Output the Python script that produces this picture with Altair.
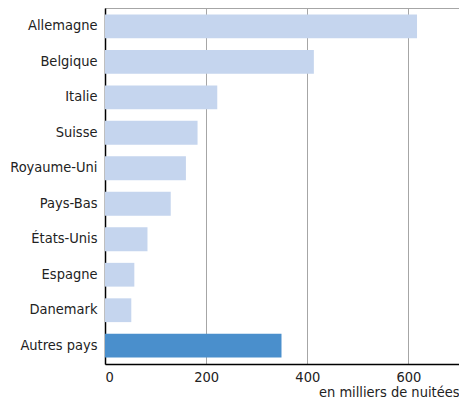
import altair as alt
import pandas as pd

pays = ["Allemagne", "Belgique", "Italie", "Suisse", "Royaume-Uni", "Pays-Bas",
        "États-Unis", "Espagne", "Danemark", "Autres pays"]
nuitees = [617, 413, 222, 183, 160, 130, 84, 58, 52, 349]
groupe = ["pays"] * 9 + ["autres"]

df = pd.DataFrame({"pays": pays, "nuitees": nuitees, "groupe": groupe})

FONT = "DejaVu Sans Condensed"

chart = alt.Chart(df).mark_bar().encode(
    y=alt.Y("pays:N", sort=None, title=None,
            scale=alt.Scale(paddingInner=0.33, paddingOuter=0.18),
            axis=alt.Axis(ticks=False, labelPadding=8, labelFontSize=14.5,
                          labelColor="#222222", labelFont=FONT,
                          domainColor="#000000", domainWidth=1.5, grid=False)),
    x=alt.X("nuitees:Q", title="en milliers de nuitées",
            scale=alt.Scale(domain=[0, 700], nice=False),
            axis=alt.Axis(values=[0, 200, 400, 600], grid=True, gridColor="#a6a6a6",
                          gridWidth=1, ticks=False, labelPadding=6, labelFontSize=14.5,
                          labelColor="#222222", labelFont=FONT,
                          domainColor="#000000", domainWidth=1.5,
                          titleAnchor="end", titleFontWeight="normal",
                          titleFontSize=14.5, titleFont=FONT, titleColor="#222222",
                          titlePadding=2)),
    color=alt.Color("groupe:N", legend=None,
                    scale=alt.Scale(domain=["pays", "autres"],
                                    range=["#c5d5ee", "#4a8fcc"])),
).properties(
    width=354, height=356,
    autosize=alt.AutoSizeParams(type="none"),
    padding={"left": 97, "top": 0, "right": 0, "bottom": 39},
).configure_view(stroke="#a6a6a6", strokeWidth=1)

chart.save("out.html", embed_options={"renderer": "svg", "actions": False})
